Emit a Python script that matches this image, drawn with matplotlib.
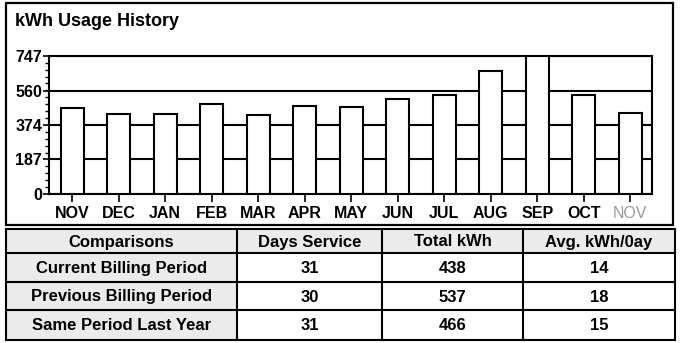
import matplotlib.pyplot as plt
from matplotlib.patches import Rectangle
from matplotlib.ticker import MultipleLocator

plt.rcParams['font.family'] = ['Liberation Sans', 'DejaVu Sans']
plt.rcParams['font.weight'] = 'bold'

months = ["NOV", "DEC", "JAN", "FEB", "MAR", "APR", "MAY", "JUN", "JUL", "AUG", "SEP", "OCT", "NOV"]
usage = [466, 433, 431, 487, 428, 476, 469, 514, 534, 667, 747, 537, 438]
y_ticks = [0, 187, 374, 560, 747]

col_heads = ["Comparisons", "Days Service", "Total kWh", "Avg. kWh/0ay"]
periods = ["Current Billing Period", "Previous Billing Period", "Same Period Last Year"]
days = [31, 30, 31]
total_kwh = [438, 537, 466]
avg_kwh = [14, 18, 15]

W, H = 682, 343
fig = plt.figure(figsize=(W / 100, H / 100), dpi=100)

# pixel-space overlay for the frame and the comparison table
bg = fig.add_axes([0, 0, 1, 1])
bg.set_xlim(0, W)
bg.set_ylim(H, 0)
bg.axis('off')

bg.add_patch(Rectangle((6, 3), 667, 222, fill=False, lw=1.6, ec='black'))
bg.text(15, 22, "kWh Usage History", fontsize=13, fontweight='bold', va='center', ha='left')

# chart
ax = fig.add_axes([49 / W, 1 - 194 / H, 603 / W, 138 / H])
x = range(len(months))
ax.bar(x, usage, width=0.5, color='white', edgecolor='black', linewidth=1.5, zorder=3)
ax.set_xlim(-0.5, len(months) - 0.53)
ax.set_ylim(0, 747)
ax.set_yticks(y_ticks)
ax.set_yticklabels([str(v) for v in y_ticks], fontsize=11.5, fontweight='bold')
ax.yaxis.set_minor_locator(MultipleLocator(187 / 5))
ax.set_xticks(list(x))
ax.set_xticklabels(months, fontsize=11.5, fontweight='bold')
ax.get_xticklabels()[-1].set_color('#9a9a9a')
ax.get_xticklabels()[-1].set_fontweight('normal')
ax.tick_params(axis='y', which='major', length=4, width=1.2, pad=1)
ax.tick_params(axis='y', which='minor', length=3, width=1)
ax.tick_params(axis='x', length=6, width=1.2, pad=3)
ax.yaxis.grid(True, color='black', linewidth=1.5, zorder=0)
ax.set_axisbelow(True)
for s in ax.spines.values():
    s.set_linewidth(1.5)

# comparison table
cols = [6, 237, 382, 523, 675]
rows = [229, 253, 282, 310, 340]
shade = '#ebebeb'
for i in range(4):
    bg.add_patch(Rectangle((cols[i], rows[0]), cols[i + 1] - cols[i], rows[1] - rows[0],
                           color=shade, lw=0))
for r in range(3):
    bg.add_patch(Rectangle((cols[0], rows[r + 1]), cols[1] - cols[0], rows[r + 2] - rows[r + 1],
                           color=shade, lw=0))
for yy in rows:
    bg.plot([cols[0], cols[-1]], [yy, yy], color='black', lw=1.5)
for xx in cols:
    bg.plot([xx, xx], [rows[0], rows[-1]], color='black', lw=1.5)

def cell(c, r, s):
    bg.text((cols[c] + cols[c + 1]) / 2, (rows[r] + rows[r + 1]) / 2 + 1, s,
            fontsize=12, fontweight='bold', ha='center', va='center')

for c, h in enumerate(col_heads):
    cell(c, 0, h)
for r in range(3):
    cell(0, r + 1, periods[r])
    cell(1, r + 1, str(days[r]))
    cell(2, r + 1, str(total_kwh[r]))
    cell(3, r + 1, str(avg_kwh[r]))

fig.savefig("out.png", dpi=100)
